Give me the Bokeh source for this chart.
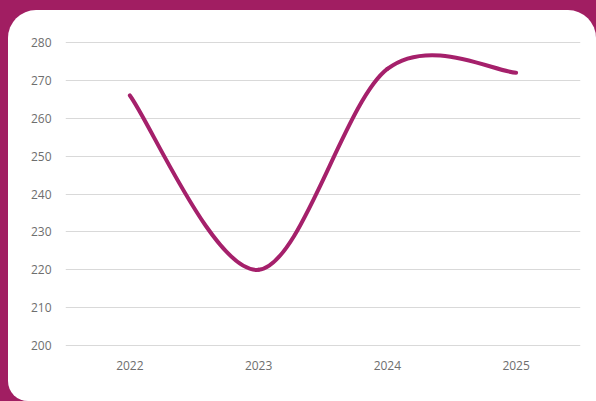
import numpy as np
from bokeh.plotting import figure
from bokeh.models import FixedTicker, GlobalInlineStyleSheet, Range1d
from bokeh.embed import file_html
from bokeh.resources import INLINE

# ---- data ----
years = ["2022", "2023", "2024", "2025"]
values = [266, 220, 273, 272]
y_ticks = [200, 210, 220, 230, 240, 250, 260, 270, 280]

PURPLE = "#A11E62"
LINE = "#A5206B"

x = np.arange(1, len(values) + 1, dtype=float)
y = np.array(values, dtype=float)

# smooth line (Excel-like): cubic Bezier segments with Catmull-Rom control points
xp = np.concatenate([[x[0]], x, [x[-1]]])
yp = np.concatenate([[y[0]], y, [y[-1]]])
n = len(x)
x0, y0 = x[:-1], y[:-1]
x1, y1 = x[1:], y[1:]
cx0 = x0 + (xp[2:n + 1] - xp[0:n - 1]) / 6.0
cy0 = y0 + (yp[2:n + 1] - yp[0:n - 1]) / 6.0
cx1 = x1 - (xp[3:n + 2] - xp[1:n]) / 6.0
cy1 = y1 - (yp[3:n + 2] - yp[1:n]) / 6.0

p = figure(width=588, height=391, output_backend="svg", toolbar_location=None,
           x_range=Range1d(0.5, len(years) + 0.5), y_range=Range1d(199.5, 280.5),
           min_border_left=57, min_border_right=16, min_border_top=30, min_border_bottom=54)

p.stylesheets = [GlobalInlineStyleSheet(css=(
    "html, body{background:%s; overflow:hidden;}" % PURPLE))]
p.styles = {"margin-left": "8px", "margin-top": "10px",
            "background-color": "#ffffff",
            "border-radius": "28px 28px 0 20px"}

p.border_fill_color = None
p.background_fill_color = None
p.outline_line_color = None

p.bezier(x0=x0, y0=y0, x1=x1, y1=y1, cx0=cx0, cy0=cy0, cx1=cx1, cy1=cy1,
         line_color=LINE, line_width=4, line_cap="round")

p.xgrid.grid_line_color = None
p.ygrid.grid_line_color = "#D9D9D9"
p.ygrid.grid_line_width = 1
p.yaxis.ticker = FixedTicker(ticks=y_ticks)
p.xaxis.ticker = FixedTicker(ticks=list(x))
p.xaxis.major_label_overrides = {i + 1: yr for i, yr in enumerate(years)}

for ax in (p.xaxis, p.yaxis):
    ax.axis_line_color = None
    ax.major_tick_line_color = None
    ax.minor_tick_line_color = None
    ax.major_label_text_font = "Open Sans"
    ax.major_label_text_font_size = "12px"
    ax.major_label_text_color = "#6E6E6E"
p.yaxis.major_label_standoff = 8
p.xaxis.major_label_standoff = 7

open("out.html", "w").write(file_html(p, INLINE))
